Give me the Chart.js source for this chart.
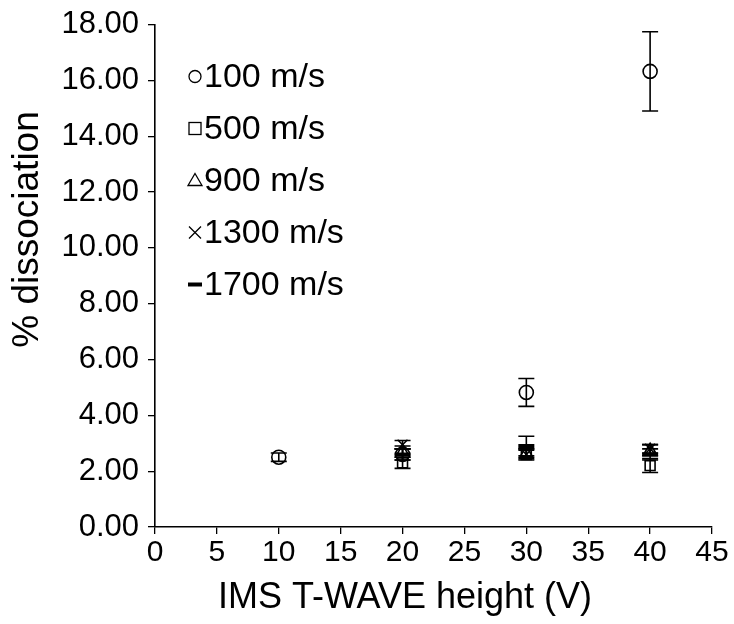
<!DOCTYPE html>
<html>
<head>
<meta charset="utf-8">
<script src="https://cdn.jsdelivr.net/npm/chart.js@4"></script>
<style>
  html, body { margin: 0; padding: 0; background: #fff; }
  #wrap { width: 734px; height: 624px; }
</style>
</head>
<body>
<div id="wrap"><canvas id="chart" width="734" height="624"></canvas></div>
<script>
// series labels and markers
const seriesNames = ['100 m/s', '500 m/s', '900 m/s', '1300 m/s', '1700 m/s'];
const markers = ['circle', 'rect', 'triangle', 'crossRot', 'line'];

// T-wave heights (V) for each series
const x100 = [10, 20, 30, 40];
const x500 = [20, 30, 40];
const x900 = [20, 30, 40];
const x1300 = [20, 30, 40];
const x1700 = [20, 30, 40];

// % dissociation
const y100 = [2.5, 2.6, 4.82, 16.32];
const y500 = [2.3, 2.6, 2.2];
const y900 = [2.7, 2.65, 2.75];
const y1300 = [2.95, 2.6, 2.8];
const y1700 = [2.6, 2.9, 2.6];

// error (+/-)
const e100 = [0.15, 0.2, 0.5, 1.42];
const e500 = [0.2, 0.2, 0.25];
const e900 = [0.2, 0.15, 0.2];
const e1300 = [0.15, 0.15, 0.15];
const e1700 = [0.2, 0.35, 0.2];

const xTicks = [0, 5, 10, 15, 20, 25, 30, 35, 40, 45];
const yTicks = [0, 2, 4, 6, 8, 10, 12, 14, 16, 18];

const xTitle = 'IMS T-WAVE height (V)';
const yTitle = '% dissociation';

const xs = [x100, x500, x900, x1300, x1700];
const ys = [y100, y500, y900, y1300, y1700];
const es = [e100, e500, e900, e1300, e1700];

const FONT = 'Arial, "Liberation Sans", sans-serif';

const datasets = seriesNames.map((name, i) => ({
  label: name,
  data: xs[i].map((x, j) => ({ x: x, y: ys[i][j], err: es[i][j] })),
  pointStyle: markers[i],
  pointRadius: markers[i] === 'line' ? 8 : 7,
  pointHoverRadius: 7,
  borderColor: '#000',
  backgroundColor: 'rgba(0,0,0,0)',
  borderWidth: markers[i] === 'line' ? 4 : 1.6,
  showLine: false,
}));

const errorBars = {
  id: 'errorBars',
  beforeDatasetsDraw(chart) {
    const ctx = chart.ctx;
    const xScale = chart.scales.x, yScale = chart.scales.y;
    ctx.save();
    ctx.strokeStyle = '#000';
    ctx.lineWidth = 1.6;
    chart.data.datasets.forEach(ds => {
      ds.data.forEach(p => {
        const px = xScale.getPixelForValue(p.x);
        const top = yScale.getPixelForValue(p.y + p.err);
        const bot = yScale.getPixelForValue(p.y - p.err);
        ctx.beginPath();
        ctx.moveTo(px, top); ctx.lineTo(px, bot);
        ctx.moveTo(px - 8, top); ctx.lineTo(px + 8, top);
        ctx.moveTo(px - 8, bot); ctx.lineTo(px + 8, bot);
        ctx.stroke();
      });
    });
    ctx.restore();
  }
};

// legend inside the plot + axis titles (placed like the original figure)
const insideLegend = {
  id: 'insideLegend',
  afterDraw(chart) {
    const ctx = chart.ctx;
    const area = chart.chartArea;
    const left = area.left + 40;
    const top = area.top + 52;
    ctx.save();
    ctx.font = '34px ' + FONT;
    ctx.fillStyle = '#000';
    ctx.textBaseline = 'middle';
    seriesNames.forEach((name, i) => {
      const cy = top + i * 52;
      ctx.strokeStyle = '#000';
      ctx.lineWidth = 1.3;
      ctx.beginPath();
      if (markers[i] === 'circle') {
        ctx.arc(left, cy, 6, 0, Math.PI * 2);
        ctx.stroke();
      } else if (markers[i] === 'rect') {
        ctx.strokeRect(left - 6, cy - 6, 12, 12);
      } else if (markers[i] === 'triangle') {
        ctx.moveTo(left, cy - 7); ctx.lineTo(left + 7, cy + 5); ctx.lineTo(left - 7, cy + 5); ctx.closePath();
        ctx.stroke();
      } else if (markers[i] === 'crossRot') {
        ctx.moveTo(left - 6, cy - 6); ctx.lineTo(left + 6, cy + 6);
        ctx.moveTo(left + 6, cy - 6); ctx.lineTo(left - 6, cy + 6);
        ctx.stroke();
      } else {
        ctx.lineWidth = 4;
        ctx.moveTo(left - 7, cy); ctx.lineTo(left + 7, cy);
        ctx.stroke();
      }
      ctx.fillText(name, left + 9, cy + 1);
    });

    // axis titles
    ctx.textAlign = 'center';
    ctx.font = '36px ' + FONT;
    ctx.fillText(xTitle, area.left + 250, 598);
    ctx.translate(28, area.top + 205);
    ctx.rotate(-Math.PI / 2);
    ctx.font = '37px ' + FONT;
    ctx.fillText(yTitle, 0, 0);
    ctx.restore();
  }
};

new Chart(document.getElementById('chart'), {
  type: 'scatter',
  data: { datasets: datasets },
  options: {
    responsive: false,
    animation: false,
    layout: { padding: { top: 24, right: 22, left: 0, bottom: 0 } },
    plugins: { legend: { display: false }, tooltip: { enabled: false } },
    scales: {
      x: {
        type: 'linear',
        min: 0, max: 45,
        afterBuildTicks: s => { s.ticks = xTicks.map(v => ({ value: v })); },
        afterFit: s => { s.height = 97; },
        grid: { display: true, drawOnChartArea: false, drawTicks: true, tickLength: 7, color: '#000', lineWidth: 1.3 },
        border: { display: true, color: '#000', width: 1.6 },
        ticks: { color: '#000', font: { family: FONT, size: 30, lineHeight: 1.0 }, padding: 4, maxRotation: 0 },
        title: { display: false }
      },
      y: {
        type: 'linear',
        min: 0, max: 18,
        afterBuildTicks: s => { s.ticks = yTicks.map(v => ({ value: v })); },
        afterFit: s => { s.width = 155; },
        grid: { display: true, drawOnChartArea: false, drawTicks: true, tickLength: 7, color: '#000', lineWidth: 1.3 },
        border: { display: true, color: '#000', width: 1.6 },
        ticks: { color: '#000', font: { family: FONT, size: 31, lineHeight: 1.0 }, padding: 9, callback: v => v.toFixed(2) },
        title: { display: false }
      }
    }
  },
  plugins: [errorBars, insideLegend]
});
</script>
</body>
</html>
